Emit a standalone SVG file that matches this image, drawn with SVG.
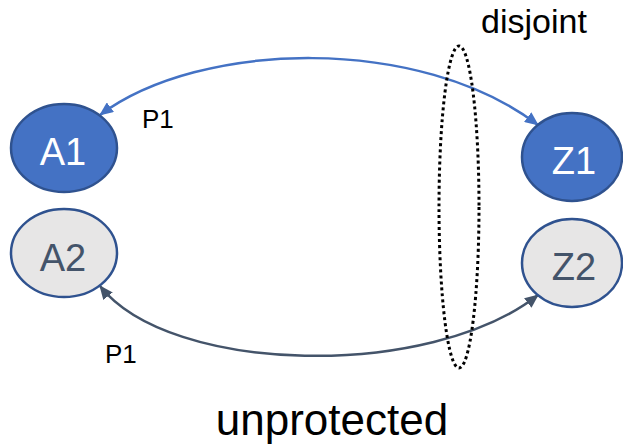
<svg xmlns="http://www.w3.org/2000/svg" width="623" height="448" viewBox="0 0 623 448">
<style>
.lbl{font-family:"Liberation Sans",Arial,sans-serif;}
.blue{fill:#4472C4;stroke:#2F528F;stroke-width:2.5;}
.grey{fill:#E7E6E6;stroke:#2F528F;stroke-width:2.5;}
.wt{fill:#FFFFFF;font-size:38px;text-anchor:middle;}
.gt{fill:#44546A;font-size:38px;text-anchor:middle;}
.conn{fill:none;stroke-width:2.5;}
</style>
<defs>
<marker id="hb" markerUnits="userSpaceOnUse" markerWidth="14" markerHeight="12" refX="13" refY="6" orient="auto-start-reverse" viewBox="0 0 14 12">
<path d="M0,0 L14,6 L0,12 z" fill="#4472C4"/>
</marker>
<marker id="hg" markerUnits="userSpaceOnUse" markerWidth="14" markerHeight="12" refX="13" refY="6" orient="auto-start-reverse" viewBox="0 0 14 12">
<path d="M0,0 L14,6 L0,12 z" fill="#44546A"/>
</marker>
</defs>
<rect width="623" height="448" fill="#FFFFFF"/>
<g id="connectors">
<path class="conn" d="M100,115 C200,40 420,35 538,125" stroke="#4472C4" marker-start="url(#hb)" marker-end="url(#hb)"/>
<path class="conn" d="M100,286 C170,375 430,380 538,295" stroke="#44546A" marker-start="url(#hg)" marker-end="url(#hg)"/>
</g>
<g id="A1"><ellipse class="blue" cx="64" cy="148" rx="53" ry="44"/><text class="lbl wt" x="63" y="165">A1</text></g>
<g id="A2"><ellipse class="grey" cx="64" cy="253" rx="53" ry="44"/><text class="lbl gt" x="63" y="271">A2</text></g>
<g id="Z1"><ellipse class="blue" cx="572" cy="157" rx="50" ry="44"/><text class="lbl wt" x="574" y="174">Z1</text></g>
<g id="Z2"><ellipse class="grey" cx="572" cy="263" rx="50" ry="44"/><text class="lbl gt" x="574" y="280">Z2</text></g>
<g id="disjoint">
<ellipse cx="459" cy="207" rx="20" ry="161" fill="none" stroke="#000000" stroke-width="3" stroke-dasharray="3 3"/>
<text class="lbl" x="534" y="33" font-size="34" text-anchor="middle" fill="#000000">disjoint</text>
</g>
<text class="lbl" x="142" y="128" font-size="26" fill="#000000">P1</text>
<text class="lbl" x="105" y="363" font-size="26" fill="#000000">P1</text>
<text class="lbl" x="332" y="435" font-size="44" text-anchor="middle" fill="#000000">unprotected</text>
</svg>
